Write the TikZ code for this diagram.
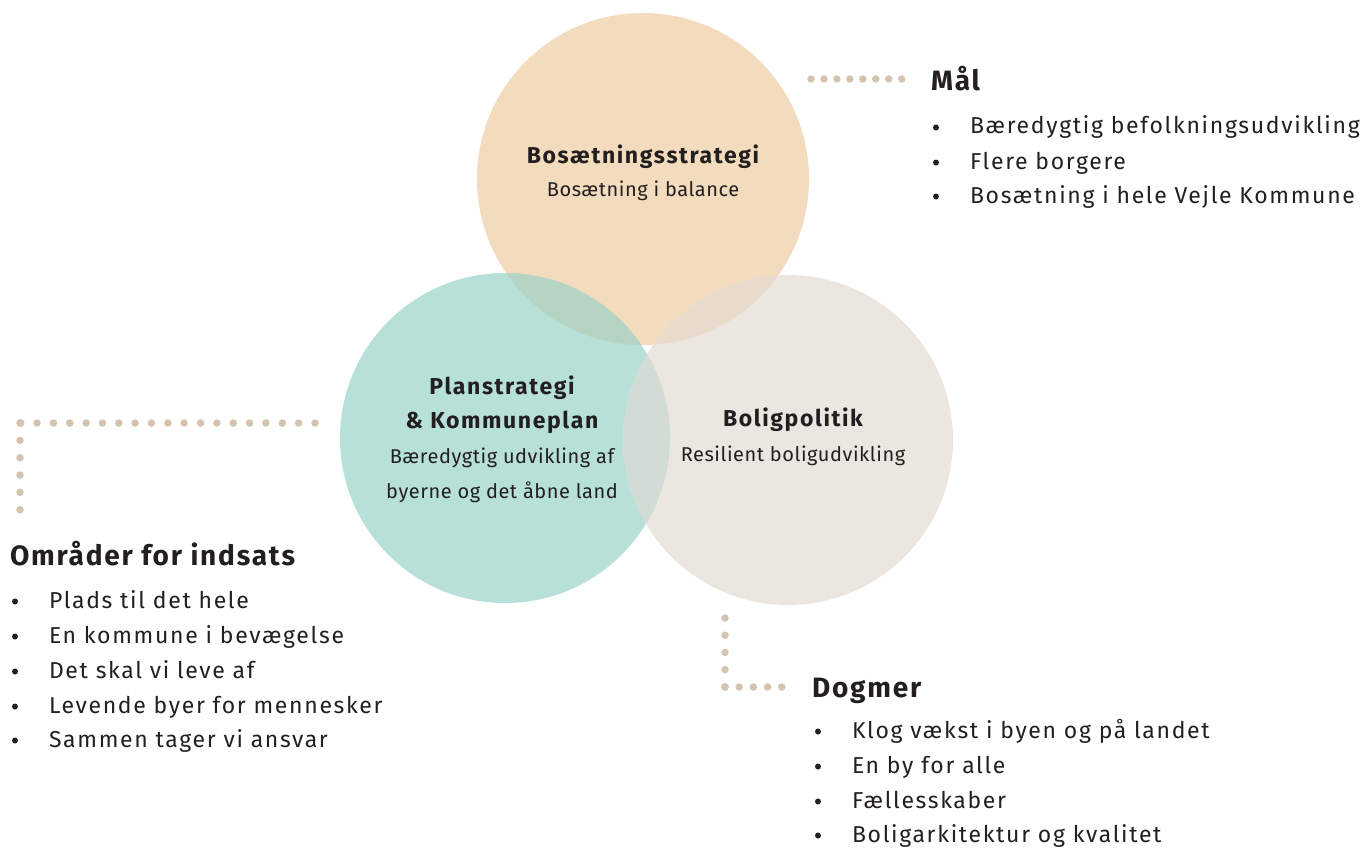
\documentclass[tikz,border=0pt]{standalone}
\usepackage{fontspec}
\setmainfont{Fira Sans}
\definecolor{orangec}{RGB}{243,219,190}
\definecolor{tealc}{RGB}{182,224,216}
\definecolor{beigec}{RGB}{236,230,224}
\definecolor{otc}{RGB}{181,212,195}
\definecolor{obc}{RGB}{233,219,203}
\definecolor{tbc}{RGB}{209,221,212}
\definecolor{dotc}{RGB}{212,195,174}
\definecolor{txt}{RGB}{35,31,32}
\newcommand{\bulitem}{\makebox[37pt][l]{\tikz[baseline=0pt]\fill[txt] (0pt,6.5pt) circle[radius=3pt];}}
\begin{document}
\begin{tikzpicture}[x=1pt,y=-1pt,
  every node/.style={inner sep=0pt,outer sep=0pt,text=txt},
  ctitle/.style={anchor=base,font=\fontsize{23}{27}\selectfont\bfseries\addfontfeature{LetterSpace=7}},
  csub/.style={anchor=base,font=\fontsize{20}{24}\selectfont\addfontfeature{LetterSpace=2.7}},
  head/.style={anchor=base west,font=\fontsize{28}{32}\selectfont\bfseries\addfontfeature{LetterSpace=6.4}},
  item/.style={anchor=base west,font=\fontsize{23}{27}\selectfont\addfontfeature{LetterSpace=7.3}},
  dotline/.style={line width=7.5pt,line cap=round,draw=dotc,dash pattern=on 0pt off #1}]
\useasboundingbox (0,0) rectangle (1367,848);
% circles
\fill[orangec] (643,179) circle[radius=166];
\fill[tealc] (505,438) circle[radius=165];
\fill[beigec] (788,440) circle[radius=165];
\begin{scope}
\clip (643,179) circle[radius=166];
\fill[otc] (505,438) circle[radius=165];
\fill[obc] (788,440) circle[radius=165];
\end{scope}
\begin{scope}
\clip (505,438) circle[radius=165];
\fill[tbc] (788,440) circle[radius=165];
\end{scope}
% circle texts
\node[ctitle] (t1) at (643,163) {Bosætningsstrategi};
\node[csub] (s1) at (643,196) {Bosætning i balance};
\node[ctitle] (t2a) at (502,394) {Planstrategi};
\node[ctitle] (t2b) at (502,428) {\& Kommuneplan};
\node[csub] (s2a) at (502,463) {Bæredygtig udvikling af};
\node[csub] (s2b) at (502,498) {byerne og det åbne land};
\node[ctitle] (t3) at (793,426) {Boligpolitik};
\node[csub] (s3) at (793,461) {Resilient boligudvikling};
% connector coordinates
\coordinate (c1a) at (811,79);
\coordinate (c1b) at (902,79);
\coordinate (c2a) at (315,423);
\coordinate (c2b) at (20,423);
\coordinate (c2c) at (20,510);
\coordinate (c3a) at (725,618);
\coordinate (c3b) at (725,687);
\coordinate (c3c) at (782,687);
\draw[dotline=12.95pt] (c1a) -- (c1b);
\draw[dotline=16.35pt] (c2a) -- (c2b);
\draw[dotline=17.35pt] (c2b) -- (c2c);
\draw[dotline=17.2pt] (c3a) -- (c3b);
\draw[dotline=14.2pt] (c3b) -- (c3c);
% Mål
\node[head] (h1) at (931,91) {Mål};
\node[item] (m1) at (933,134) {\bulitem Bæredygtig befolkningsudvikling};
\node[item] (m2) at (933,169) {\bulitem Flere borgere};
\node[item] (m3) at (933,203) {\bulitem Bosætning i hele Vejle Kommune};
% Områder
\node[head] (h2) at (10,565) {Områder for indsats};
\node[item] (o1) at (12,608) {\bulitem Plads til det hele};
\node[item] (o2) at (12,643) {\bulitem En kommune i bevægelse};
\node[item] (o3) at (12,678) {\bulitem Det skal vi leve af};
\node[item] (o4) at (12,713) {\bulitem Levende byer for mennesker};
\node[item] (o5) at (12,747) {\bulitem Sammen tager vi ansvar};
% Dogmer
\node[head] (h3) at (812,697) {Dogmer};
\node[item] (d1) at (815,738) {\bulitem Klog vækst i byen og på landet};
\node[item] (d2) at (815,773) {\bulitem En by for alle};
\node[item] (d3) at (815,808) {\bulitem Fællesskaber};
\node[item] (d4) at (815,842) {\bulitem Boligarkitektur og kvalitet};
\end{tikzpicture}
\end{document}
